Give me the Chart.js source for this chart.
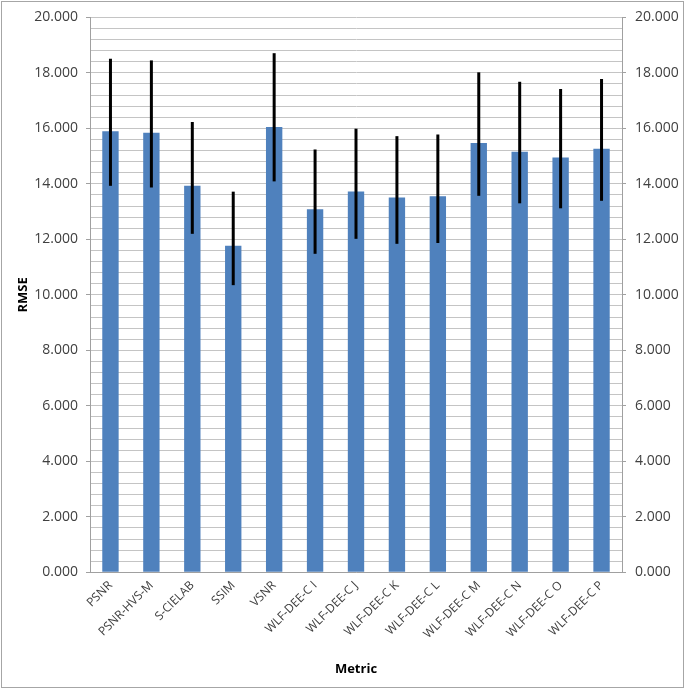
<!DOCTYPE html>
<html>
<head>
<meta charset="utf-8">
<script src="https://cdn.jsdelivr.net/npm/chart.js@4.4.0/dist/chart.umd.min.js"></script>
<style>
  body { margin: 0; background: #fff; }
  #wrap { width: 685px; height: 690px; }
</style>
</head>
<body>
<div id="wrap"><canvas id="rmseChart" width="685" height="690"></canvas></div>
<script>
// categorias e valores
const metrics = ['PSNR', 'PSNR-HVS-M', 'S-CIELAB', 'SSIM', 'VSNR', 'WLF-DEE-C I', 'WLF-DEE-C J',
    'WLF-DEE-C K', 'WLF-DEE-C L', 'WLF-DEE-C M', 'WLF-DEE-C N', 'WLF-DEE-C O', 'WLF-DEE-C P'];
const rmse = [15.90, 15.84, 13.93, 11.77, 16.05, 13.09, 13.73, 13.51, 13.55, 15.47, 15.16, 14.95, 15.27];
const errHigh = [18.51, 18.45, 16.23, 13.72, 18.71, 15.24, 15.99, 15.72, 15.78, 18.02, 17.68, 17.42, 17.78];
const errLow = [13.93, 13.87, 12.20, 10.35, 14.09, 11.48, 12.02, 11.84, 11.87, 13.57, 13.30, 13.12, 13.39];
const yMin = 0, yMax = 20, minorStep = 0.4, majorStep = 2;

const isMajor = v => Math.abs(v / majorStep - Math.round(v / majorStep)) < 1e-6;
const tickLabel = v => isMajor(v) ? v.toFixed(3) : '';

function buildMinorTicks(scale) {
    const t = [];
    for (let k = 0; k <= Math.round((yMax - yMin) / minorStep); k++) {
        t.push({ value: +(yMin + k * minorStep).toFixed(4) });
    }
    scale.ticks = t;
}

// barras de erro desenhadas sobre as barras
const errorBars = {
    id: 'errorBars',
    afterDatasetsDraw(chart) {
        const ctx = chart.ctx;
        const y = chart.scales.y;
        const meta = chart.getDatasetMeta(0);
        ctx.save();
        ctx.strokeStyle = '#000';
        ctx.lineWidth = 3;
        meta.data.forEach((bar, i) => {
            ctx.beginPath();
            ctx.moveTo(bar.x, y.getPixelForValue(errLow[i]));
            ctx.lineTo(bar.x, y.getPixelForValue(errHigh[i]));
            ctx.stroke();
        });
        ctx.restore();
    }
};

// moldura do gráfico
const frame = {
    id: 'frame',
    afterDraw(chart) {
        const ctx = chart.ctx;
        ctx.save();
        ctx.strokeStyle = '#a6a6a6';
        ctx.lineWidth = 1;
        ctx.strokeRect(1.5, 1.5, chart.width - 3, chart.height - 4);
        ctx.restore();
    }
};

const xTickFont = { family: 'Open Sans', size: 12 };
const yTickFont = { family: 'Open Sans', size: 14 };
const titleFont = { family: 'Open Sans', size: 13, weight: 'bold' };
const gridColor = '#c4c4c4';
const axisColor = '#a0a0a0';

const rmseChart = new Chart(
    document.getElementById('rmseChart'),
    {
        type: 'bar',
        data: {
            labels: metrics,
            datasets: [{
                label: 'RMSE',
                data: rmse,
                backgroundColor: '#4f81bd',
                borderWidth: 0,
                categoryPercentage: 1.0,
                barPercentage: 0.4
            }]
        },
        options: {
            responsive: false,
            animation: false,
            layout: { padding: { top: 7, left: 2, right: 2, bottom: 13 } },
            plugins: {
                legend: { display: false },
                tooltip: { enabled: false }
            },
            scales: {
                x: {
                    grid: { display: false, drawTicks: false },
                    border: { color: axisColor },
                    ticks: {
                        color: '#404040',
                        font: xTickFont,
                        minRotation: 45,
                        maxRotation: 45,
                        autoSkip: false,
                        padding: 6
                    },
                    title: {
                        display: true,
                        text: 'Metric',
                        color: '#000',
                        font: titleFont,
                        padding: { top: 14, bottom: 0 }
                    }
                },
                y: {
                    position: 'left',
                    min: yMin,
                    max: yMax,
                    afterBuildTicks: buildMinorTicks,
                    afterFit(scale) { scale.width = 88; },
                    grid: {
                        color: gridColor,
                        tickLength: 4,
                        tickColor: c => isMajor(c.tick.value) ? axisColor : 'rgba(0,0,0,0)'
                    },
                    border: { color: axisColor },
                    ticks: {
                        autoSkip: false,
                        color: '#404040',
                        font: yTickFont,
                        padding: 8,
                        callback: v => tickLabel(v)
                    },
                    title: {
                        display: true,
                        text: 'RMSE',
                        color: '#000',
                        font: titleFont,
                        padding: { top: 13, bottom: 0 }
                    }
                },
                y2: {
                    position: 'right',
                    min: yMin,
                    max: yMax,
                    afterBuildTicks: buildMinorTicks,
                    afterFit(scale) { scale.width = 61; },
                    grid: {
                        drawOnChartArea: false,
                        tickLength: 4,
                        tickColor: c => isMajor(c.tick.value) ? axisColor : 'rgba(0,0,0,0)'
                    },
                    border: { color: axisColor },
                    ticks: {
                        autoSkip: false,
                        color: '#404040',
                        font: yTickFont,
                        padding: 9,
                        callback: v => tickLabel(v)
                    }
                }
            }
        },
        plugins: [errorBars, frame]
    }
);
</script>
</body>
</html>
